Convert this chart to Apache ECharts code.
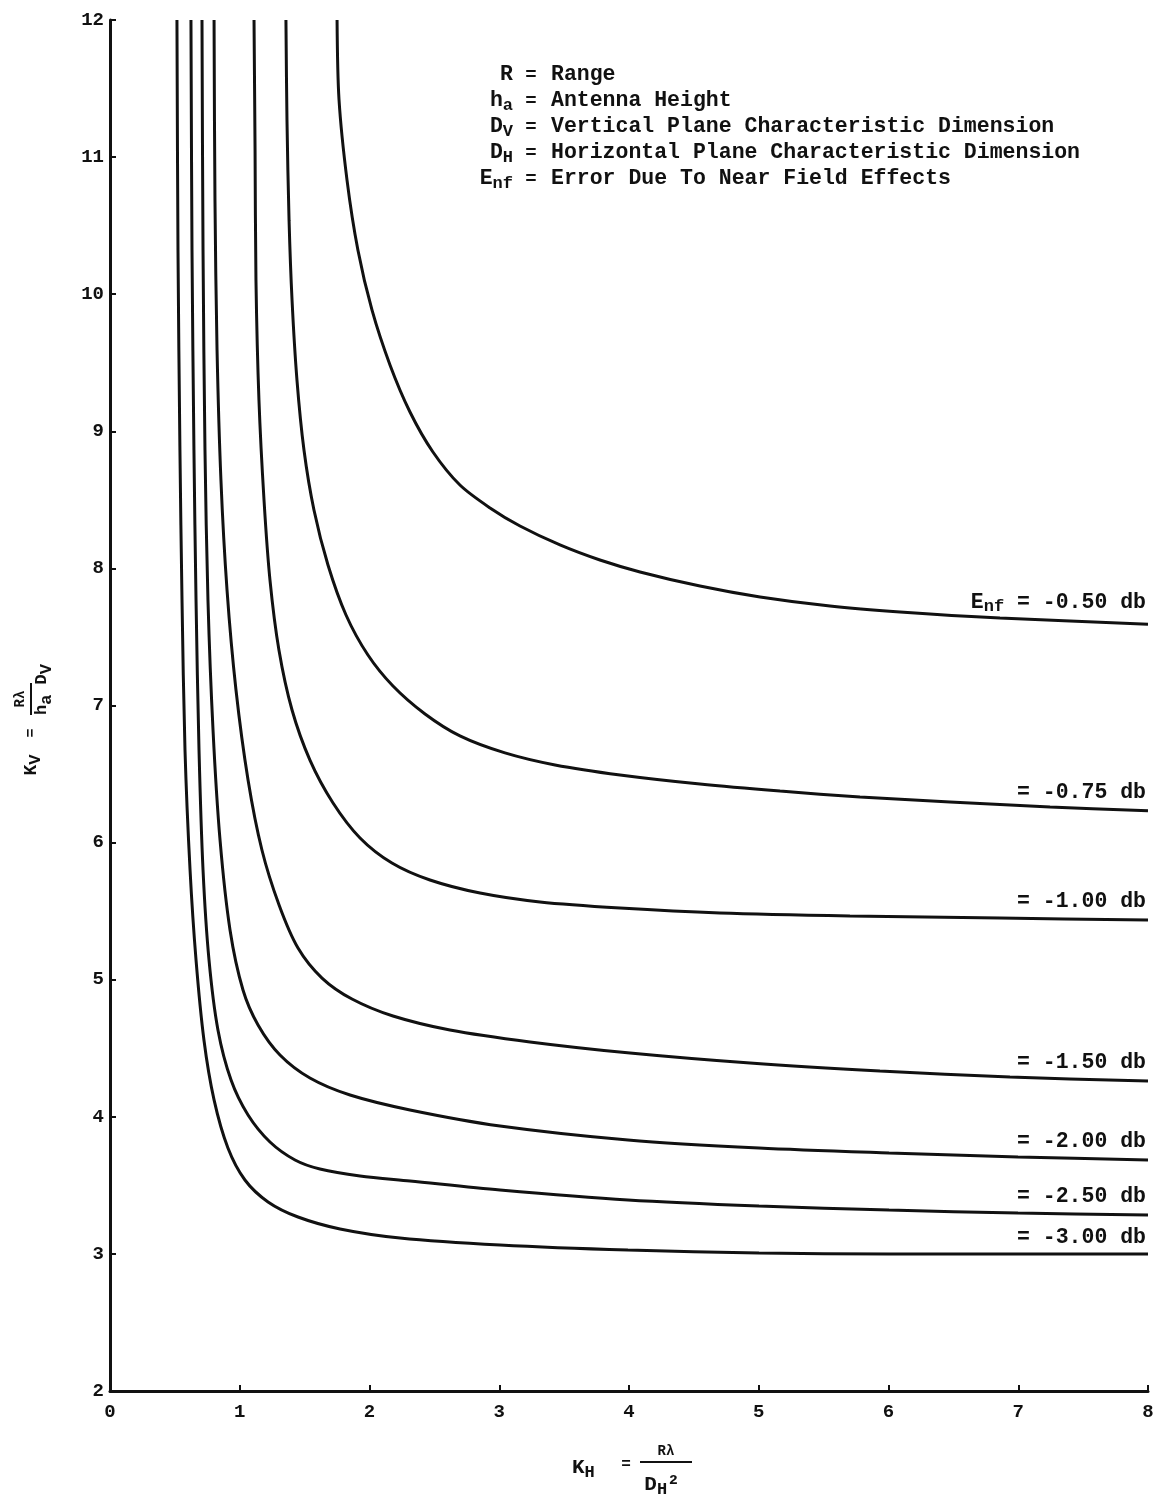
<!DOCTYPE html>
<html>
<head>
<meta charset="utf-8">
<script src="https://cdn.jsdelivr.net/npm/echarts@6/dist/echarts.min.js"></script>
<style>
  html, body { margin: 0; padding: 0; background: #fff; }
  #chart { width: 1158px; height: 1498px; }
</style>
</head>
<body>
<div id="chart"></div>
<script>
// curve levels (E_nf in db), top to bottom
const levels = ['-0.50', '-0.75', '-1.00', '-1.50', '-2.00', '-2.50', '-3.00'];

// [K_H, K_V] points
const curve050 = [[1.75, 12.0], [1.765, 11.42], [1.827, 10.83], [1.911, 10.32], [2.019, 9.885], [2.158, 9.484], [2.312, 9.141], [2.489, 8.849], [2.697, 8.608], [2.929, 8.441], [3.16, 8.309], [3.468, 8.171], [3.776, 8.061], [4.085, 7.974], [4.547, 7.871], [5.01, 7.791], [5.549, 7.725], [6.089, 7.682], [6.859, 7.638], [8.0, 7.593]];
const curve075 = [[1.356, 12.0], [1.364, 11.27], [1.38, 10.54], [1.403, 9.958], [1.441, 9.374], [1.495, 8.864], [1.572, 8.426], [1.68, 8.025], [1.819, 7.66], [1.988, 7.368], [2.181, 7.142], [2.428, 6.938], [2.697, 6.778], [3.044, 6.654], [3.43, 6.566], [3.931, 6.493], [4.547, 6.427], [5.164, 6.376], [5.78, 6.333], [6.474, 6.296], [7.245, 6.26], [8.0, 6.232]];
const curve100 = [[1.11, 12.0], [1.118, 11.05], [1.125, 10.1], [1.148, 9.228], [1.187, 8.499], [1.233, 7.915], [1.302, 7.405], [1.403, 6.967], [1.541, 6.602], [1.719, 6.289], [1.927, 6.034], [2.173, 5.851], [2.466, 5.727], [2.852, 5.632], [3.314, 5.567], [3.931, 5.523], [4.701, 5.487], [5.703, 5.465], [6.859, 5.45], [8.0, 5.435]];
const curve150 = [[0.802, 12.0], [0.809, 10.69], [0.825, 9.593], [0.855, 8.645], [0.902, 7.842], [0.971, 7.113], [1.064, 6.457], [1.171, 5.946], [1.303, 5.545], [1.449, 5.231], [1.634, 5.012], [1.865, 4.859], [2.181, 4.735], [2.62, 4.633], [3.237, 4.546], [4.008, 4.465], [4.933, 4.392], [5.934, 4.334], [6.936, 4.29], [8.0, 4.261]];
const curve200 = [[0.709, 12.0], [0.717, 10.32], [0.732, 8.864], [0.755, 7.77], [0.794, 6.821], [0.848, 6.019], [0.925, 5.363], [1.025, 4.925], [1.141, 4.67], [1.31, 4.451], [1.541, 4.283], [1.85, 4.159], [2.312, 4.05], [3.006, 3.933], [3.992, 3.831], [5.002, 3.772], [6.004, 3.736], [6.998, 3.707], [8.0, 3.685]];
const curve250 = [[0.624, 12.0], [0.632, 10.32], [0.647, 8.864], [0.663, 7.77], [0.686, 6.675], [0.717, 5.8], [0.763, 5.144], [0.832, 4.633], [0.933, 4.268], [1.064, 4.013], [1.233, 3.816], [1.426, 3.685], [1.618, 3.619], [1.927, 3.568], [2.312, 3.532], [3.006, 3.466], [3.992, 3.393], [5.002, 3.349], [6.004, 3.32], [6.998, 3.298], [8.0, 3.284]];
const curve300 = [[0.516, 12.0], [0.524, 10.32], [0.539, 8.864], [0.555, 7.77], [0.578, 6.675], [0.617, 5.8], [0.663, 5.144], [0.724, 4.56], [0.802, 4.123], [0.909, 3.772], [1.04, 3.539], [1.218, 3.379], [1.449, 3.269], [1.773, 3.182], [2.235, 3.116], [3.006, 3.065], [3.992, 3.028], [5.002, 3.007], [6.004, 3.0], [6.998, 3.0], [8.0, 3.0]];
const curves = [curve050, curve075, curve100, curve150, curve200, curve250, curve300];

// definitions block
const defSymbols = ['R', 'h{s|a}', 'D{s|V}', 'D{s|H}', 'E{s|nf}'];
const defMeanings = ['Range', 'Antenna Height', 'Vertical Plane Characteristic Dimension',
  'Horizontal Plane Characteristic Dimension', 'Error Due To Near Field Effects'];

const FONT = '"Liberation Mono", "DejaVu Sans Mono", monospace';
const INK = '#111';

const subRich = {
  s: { fontFamily: FONT, fontWeight: 'bold', fontSize: 17, lineHeight: 12, verticalAlign: 'bottom', color: INK }
};
const graphicRich = {
  s: { fontFamily: FONT, fontWeight: 'bold', fontSize: 17, lineHeight: 12, verticalAlign: 'bottom', fill: INK }
};

function txt(x, y, text, size, align, extra) {
  return Object.assign({
    type: 'text', x: x, y: y,
    style: {
      text: text, fill: INK, fontFamily: FONT, fontWeight: 'bold', fontSize: size,
      lineHeight: 26, align: align, verticalAlign: 'middle',
      textAlign: align, textVerticalAlign: 'middle', rich: graphicRich
    }
  }, extra || {});
}

const graphics = [];
defSymbols.forEach((s, i) => {
  const y = 75 + i * 26;
  graphics.push(txt(513, y, s, 21.5, 'right'));
  graphics.push(txt(531, y, '=', 19, 'center'));
  graphics.push(txt(551, y, defMeanings[i], 21.5, 'left'));
});

// x axis name: K_H = R lambda / D_H^2
graphics.push({
  type: 'group', x: 0, y: 0,
  children: [
    txt(572, 1468, 'K{s|H}', 21, 'left'),
    txt(626, 1465, '=', 16, 'center'),
    txt(666, 1451, 'Rλ', 14, 'center'),
    { type: 'line', shape: { x1: 640, y1: 1462, x2: 692, y2: 1462 }, style: { stroke: INK, lineWidth: 2 } },
    txt(662, 1485, 'D{s|H}²', 21, 'center')
  ]
});

// y axis name (rotated): K_V = R lambda / h_a D_V
graphics.push({
  type: 'group', x: 31, y: 715, rotation: Math.PI / 2,
  children: [
    txt(-50, 0, 'K{s|V}', 18, 'center'),
    txt(-18, 0, '=', 15, 'center'),
    txt(16, -11, 'Rλ', 14, 'center'),
    { type: 'line', shape: { x1: 0, y1: 0, x2: 32, y2: 0 }, style: { stroke: INK, lineWidth: 2 } },
    txt(0, 11, 'h{s|a} D{s|V}', 17, 'left')
  ]
});

const labelOffsets = [[-2, -4], [-2, 0], [-2, 0], [-2, 0], [-2, 0], [-2, 0], [-2, 2]];

const series = curves.map((c, i) => ({
  type: 'line',
  name: levels[i] + ' db',
  smooth: 0.3,
  symbol: 'circle',
  symbolSize: 0,
  showSymbol: true,
  showAllSymbol: true,
  lineStyle: { color: INK, width: 3 },
  itemStyle: { color: INK },
  emphasis: { disabled: true },
  data: c.map((p, j) => j === c.length - 1 ? {
    value: p,
    label: {
      show: true,
      position: 'top',
      distance: 5,
      align: 'right',
      offset: labelOffsets[i],
      formatter: i === 0 ? 'E{s|nf} = ' + levels[i] + ' db' : '= ' + levels[i] + ' db',
      fontFamily: FONT, fontWeight: 'bold', fontSize: 21.5, color: INK, lineHeight: 26,
      rich: subRich
    }
  } : p)
}));

const chart = echarts.init(document.getElementById('chart'));
chart.setOption({
  backgroundColor: '#fff',
  animation: false,
  grid: { left: 110, right: 10, top: 20, bottom: 107, containLabel: false },
  xAxis: {
    type: 'value', min: 0, max: 8, interval: 1,
    axisLine: { show: true, lineStyle: { color: INK, width: 3 } },
    axisTick: { show: true, inside: true, length: 6, lineStyle: { color: INK, width: 2 } },
    axisLabel: { color: INK, fontFamily: FONT, fontWeight: 'bold', fontSize: 19, margin: 12 },
    splitLine: { show: false }
  },
  yAxis: {
    type: 'value', min: 2, max: 12, interval: 1,
    axisLine: { show: true, lineStyle: { color: INK, width: 3 } },
    axisTick: { show: true, inside: true, length: 6, lineStyle: { color: INK, width: 2 } },
    axisLabel: { color: INK, fontFamily: FONT, fontWeight: 'bold', fontSize: 19, margin: 6 },
    splitLine: { show: false }
  },
  graphic: graphics,
  series: series
});
</script>
</body>
</html>
